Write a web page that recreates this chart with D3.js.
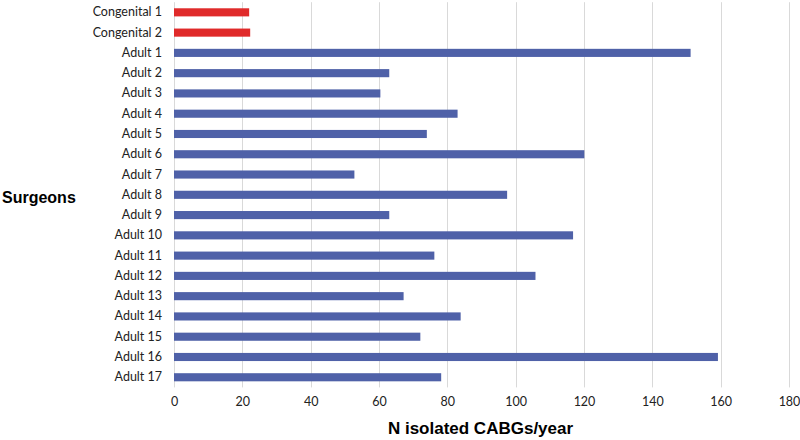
<!DOCTYPE html>
<html>
<head>
<meta charset="utf-8">
<script src="https://cdn.jsdelivr.net/npm/d3@7"></script>
<style>
  html, body { margin: 0; padding: 0; background: #ffffff; }
  svg { display: block; }
</style>
</head>
<body>
<svg id="chart" width="800" height="440"></svg>
<script>
const categories = ["Congenital 1", "Congenital 2", "Adult 1", "Adult 2", "Adult 3", "Adult 4", "Adult 5", "Adult 6", "Adult 7", "Adult 8", "Adult 9", "Adult 10", "Adult 11", "Adult 12", "Adult 13", "Adult 14", "Adult 15", "Adult 16", "Adult 17"];
const values = [22.0, 22.3, 151.2, 63.0, 60.4, 83.0, 74.0, 120.1, 52.8, 97.5, 63.0, 116.8, 76.2, 105.8, 67.2, 83.9, 72.1, 159.2, 78.2];
const groups = ["Congenital", "Congenital", "Adult", "Adult", "Adult", "Adult", "Adult", "Adult", "Adult", "Adult", "Adult", "Adult", "Adult", "Adult", "Adult", "Adult", "Adult", "Adult", "Adult"];
const xTicks = [0, 20, 40, 60, 80, 100, 120, 140, 160, 180];
const groupColors = { Congenital: "#e02a2a", Adult: "#4f61a8" };

(function () {
const data = categories.map((c, i) => ({ name: c, value: values[i], group: groups[i] }));

const svg = d3.select("#chart");
const mLeft = 174, mRight = 789, mTop = 2.2, mBottom = 387.4;

const x = d3.scaleLinear().domain([0, 180]).range([mLeft, mRight]);
const y = d3.scaleBand().domain(categories).range([mTop, mBottom]).paddingInner(0.6).paddingOuter(0.3);

// gridlines
svg.append("g")
  .selectAll("line")
  .data(xTicks)
  .join("line")
  .attr("x1", d => Math.round(x(d)) + 0.5)
  .attr("x2", d => Math.round(x(d)) + 0.5)
  .attr("y1", mTop)
  .attr("y2", mBottom)
  .attr("stroke", "#d9d9d9")
  .attr("stroke-width", 1);

// bars
svg.append("g")
  .selectAll("rect")
  .data(data)
  .join("rect")
  .attr("x", x(0))
  .attr("y", d => y(d.name))
  .attr("width", d => x(d.value) - x(0))
  .attr("height", y.bandwidth())
  .attr("fill", d => groupColors[d.group]);

// x axis
const xAxis = d3.axisBottom(x).tickValues(xTicks).tickSize(0).tickPadding(10);
const gx = svg.append("g").attr("transform", `translate(0,${mBottom})`).call(xAxis);
gx.select(".domain").remove();
gx.selectAll("text")
  .attr("font-family", "Lato, 'Open Sans', sans-serif")
  .attr("font-size", 12.5)
  .attr("fill", "#222");

// y axis
const yAxis = d3.axisLeft(y).tickSize(0).tickPadding(12);
const gy = svg.append("g").attr("transform", `translate(${mLeft},0)`).call(yAxis);
gy.select(".domain").remove();
gy.selectAll("text")
  .attr("font-family", "Lato, 'Open Sans', sans-serif")
  .attr("font-size", 12.5)
  .attr("fill", "#222");

// axis titles
svg.append("text")
  .attr("x", 480.5)
  .attr("y", 434)
  .attr("text-anchor", "middle")
  .attr("font-family", "Arial, 'Liberation Sans', sans-serif")
  .attr("font-weight", "bold")
  .attr("font-size", 17)
  .attr("fill", "#000")
  .text("N isolated CABGs/year");

svg.append("text")
  .attr("x", 2)
  .attr("y", 202.5)
  .attr("font-family", "Arial, 'Liberation Sans', sans-serif")
  .attr("font-weight", "bold")
  .attr("font-size", 16)
  .attr("fill", "#000")
  .text("Surgeons");
})();
</script>
</body>
</html>
